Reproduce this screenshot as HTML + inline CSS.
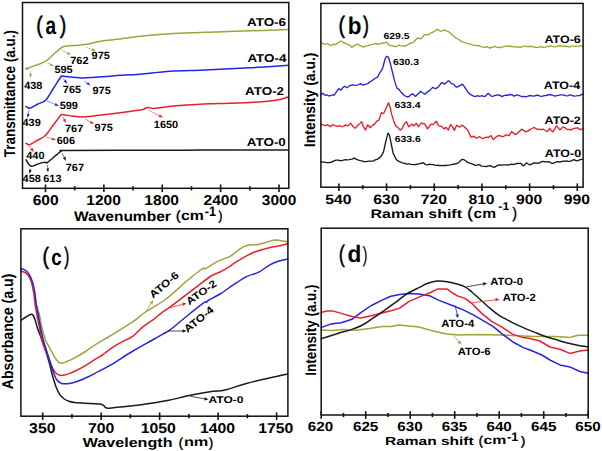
<!DOCTYPE html>
<html><head><meta charset="utf-8"><style>html,body{margin:0;padding:0;background:#fff;}svg{display:block;font-family:"Liberation Sans",sans-serif;text-rendering:geometricPrecision;}</style></head><body>
<svg width="602" height="451" viewBox="0 0 602 451">
<rect width="602" height="451" fill="#fff"/>
<path d="M26.0,68.6 C26.2,68.6 26.6,69.1 27.3,68.9 C28.0,68.7 28.2,68.1 30.0,67.4 C31.8,66.7 35.4,65.5 38.0,64.5 C40.6,63.5 43.1,63.0 45.8,61.2 C48.5,59.5 51.4,56.2 54.0,54.0 C56.6,51.8 59.5,49.0 61.2,47.8 C62.9,46.6 62.5,46.9 64.0,46.6 C65.5,46.3 67.7,46.0 70.0,45.8 C72.3,45.6 75.2,45.5 78.0,45.2 C80.8,44.9 83.9,44.7 86.7,44.2 C89.5,43.8 92.2,43.1 95.0,42.5 C97.8,41.9 100.8,41.2 103.3,40.8 C105.8,40.4 107.2,40.3 110.0,40.0 C112.8,39.7 115.0,39.6 120.0,39.0 C125.0,38.4 131.7,37.2 140.0,36.3 C148.3,35.4 160.0,34.3 170.0,33.7 C180.0,33.1 193.3,32.8 200.0,32.5 C206.7,32.2 201.7,32.5 210.0,32.2 C218.3,31.9 237.0,31.2 250.0,30.8 C263.0,30.4 281.7,29.8 288.0,29.6" fill="none" stroke="#9ca636" stroke-width="1.5" stroke-linejoin="round" stroke-linecap="round"/>
<path d="M26.0,106.5 C26.2,106.6 26.6,106.9 27.3,107.2 C28.0,107.5 28.2,108.7 30.0,108.2 C31.8,107.7 35.4,105.4 38.0,104.0 C40.6,102.6 43.3,102.5 45.8,100.0 C48.3,97.5 50.5,92.8 53.0,89.0 C55.5,85.2 59.1,79.1 60.8,77.0 C62.5,74.9 61.5,76.3 63.0,76.3 C64.5,76.3 66.6,76.7 70.0,77.0 C73.4,77.3 79.1,78.0 83.3,78.0 C87.5,78.0 90.5,77.5 95.0,77.2 C99.5,76.9 105.8,76.6 110.0,76.3 C114.2,76.0 115.0,75.6 120.0,75.3 C125.0,75.0 131.7,74.9 140.0,74.2 C148.3,73.5 160.0,72.0 170.0,71.3 C180.0,70.6 193.3,70.6 200.0,70.3 C206.7,70.0 201.7,70.1 210.0,69.7 C218.3,69.3 237.0,68.5 250.0,67.8 C263.0,67.1 281.7,65.7 288.0,65.3" fill="none" stroke="#2424e0" stroke-width="1.5" stroke-linejoin="round" stroke-linecap="round"/>
<path d="M26.0,143.4 C26.2,143.5 26.8,143.8 27.3,144.0 C27.8,144.2 27.6,145.3 29.2,144.7 C30.8,144.1 34.4,142.0 37.0,140.5 C39.6,139.0 42.3,138.3 45.0,135.8 C47.7,133.3 50.4,128.9 53.0,125.5 C55.6,122.1 59.1,117.1 60.8,115.3 C62.5,113.5 61.1,114.6 63.0,114.7 C64.9,114.8 68.9,115.6 72.0,116.0 C75.1,116.4 77.9,117.0 81.7,117.0 C85.5,117.0 90.3,116.3 95.0,115.8 C99.7,115.3 105.8,114.5 110.0,114.0 C114.2,113.5 114.7,113.4 120.0,112.7 C125.3,112.0 137.4,110.4 141.6,109.7 C145.8,109.0 143.9,108.7 145.0,108.3 C146.1,107.9 146.8,107.5 148.0,107.5 C149.2,107.5 150.8,108.1 152.0,108.2 C153.2,108.3 150.9,108.7 155.0,108.3 C159.1,107.9 169.8,106.4 176.7,105.8 C183.6,105.2 191.1,104.7 196.7,104.4 C202.2,104.1 201.1,104.1 210.0,103.8 C218.9,103.5 240.0,102.9 250.0,102.4 C260.0,101.9 265.0,101.4 270.0,100.9 C275.0,100.4 276.9,100.2 280.0,99.5 C283.1,98.8 287.1,97.2 288.5,96.8" fill="none" stroke="#e8202a" stroke-width="1.5" stroke-linejoin="round" stroke-linecap="round"/>
<path d="M26.0,159.8 C26.4,160.5 27.6,162.9 28.5,164.0 C29.4,165.1 30.4,166.1 31.6,166.3 C32.8,166.5 34.1,165.5 35.5,165.0 C36.9,164.5 38.2,163.9 39.8,163.4 C41.4,162.9 43.8,162.3 45.0,162.2 C46.2,162.1 45.8,163.5 47.3,162.6 C48.8,161.7 51.7,158.9 54.0,157.0 C56.3,155.1 59.5,152.3 61.3,151.2 C63.1,150.1 55.2,150.7 65.0,150.5 C74.8,150.3 97.5,150.4 120.0,150.3 C142.5,150.2 171.9,150.2 200.0,150.1 C228.1,150.0 273.8,150.0 288.5,150.0" fill="none" stroke="#1a1a1a" stroke-width="1.5" stroke-linejoin="round" stroke-linecap="round"/>
<line x1="30.50" y1="71.00" x2="30.50" y2="73.80" stroke="#9ca636" stroke-width="0.55"/>
<polygon points="30.50,78.00 29.05,73.80 31.95,73.80" fill="#9ca636"/>
<line x1="47.20" y1="62.80" x2="50.13" y2="64.24" stroke="#9ca636" stroke-width="0.55"/>
<polygon points="53.90,66.10 49.49,65.55 50.77,62.94" fill="#9ca636"/>
<line x1="61.60" y1="50.00" x2="67.38" y2="53.04" stroke="#9ca636" stroke-width="0.55"/>
<polygon points="71.10,55.00 66.71,54.33 68.06,51.76" fill="#9ca636"/>
<line x1="85.60" y1="47.20" x2="92.16" y2="49.64" stroke="#9ca636" stroke-width="0.55"/>
<polygon points="96.10,51.10 91.66,51.00 92.67,48.28" fill="#9ca636"/>
<line x1="63.30" y1="78.30" x2="64.80" y2="80.45" stroke="#2424e0" stroke-width="0.55"/>
<polygon points="67.20,83.90 63.61,81.28 65.99,79.62" fill="#2424e0"/>
<line x1="84.40" y1="81.10" x2="87.20" y2="83.13" stroke="#2424e0" stroke-width="0.55"/>
<polygon points="90.60,85.60 86.35,84.31 88.05,81.96" fill="#2424e0"/>
<line x1="47.00" y1="101.00" x2="55.12" y2="104.38" stroke="#2424e0" stroke-width="0.55"/>
<polygon points="59.00,106.00 54.57,105.72 55.68,103.05" fill="#2424e0"/>
<line x1="29.00" y1="110.00" x2="28.27" y2="113.87" stroke="#2424e0" stroke-width="0.55"/>
<polygon points="27.50,118.00 26.85,113.60 29.70,114.14" fill="#2424e0"/>
<line x1="63.00" y1="117.00" x2="64.12" y2="119.24" stroke="#e8202a" stroke-width="0.55"/>
<polygon points="66.00,123.00 62.82,119.89 65.42,118.59" fill="#e8202a"/>
<line x1="85.00" y1="119.00" x2="90.33" y2="121.96" stroke="#e8202a" stroke-width="0.55"/>
<polygon points="94.00,124.00 89.62,123.23 91.03,120.69" fill="#e8202a"/>
<line x1="46.00" y1="137.00" x2="51.98" y2="138.79" stroke="#e8202a" stroke-width="0.55"/>
<polygon points="56.00,140.00 51.56,140.18 52.39,137.40" fill="#e8202a"/>
<line x1="29.00" y1="146.00" x2="31.31" y2="148.77" stroke="#e8202a" stroke-width="0.55"/>
<polygon points="34.00,152.00 30.20,149.70 32.43,147.85" fill="#e8202a"/>
<line x1="149.00" y1="110.50" x2="159.24" y2="115.62" stroke="#e8202a" stroke-width="0.55"/>
<polygon points="163.00,117.50 158.59,116.92 159.89,114.32" fill="#e8202a"/>
<line x1="62.00" y1="153.00" x2="64.12" y2="157.24" stroke="#1a1a1a" stroke-width="0.55"/>
<polygon points="66.00,161.00 62.82,157.89 65.42,156.59" fill="#1a1a1a"/>
<line x1="47.50" y1="165.00" x2="47.72" y2="168.31" stroke="#1a1a1a" stroke-width="0.55"/>
<polygon points="48.00,172.50 46.27,168.41 49.17,168.21" fill="#1a1a1a"/>
<line x1="30.50" y1="168.50" x2="30.25" y2="169.87" stroke="#1a1a1a" stroke-width="0.55"/>
<polygon points="29.50,174.00 28.82,169.61 31.68,170.13" fill="#1a1a1a"/>
<ellipse cx="26.9" cy="68.5" rx="1.6" ry="1.3" fill="#9ca636"/>
<polyline points="320.7,42.9 322.6,43.4 324.5,44.4 326.0,44.1 327.5,43.7 329.0,44.5 330.5,45.6 332.0,45.0 333.5,44.1 335.7,44.7 337.9,42.6 339.2,42.0 340.6,41.1 342.2,41.7 343.9,43.2 345.4,43.2 346.9,44.1 348.4,45.0 349.9,45.2 352.1,47.4 353.6,46.1 355.1,45.2 356.6,44.4 358.1,44.1 359.6,45.5 361.1,45.9 363.3,47.1 364.8,46.5 366.3,45.9 367.8,45.9 369.3,45.2 370.8,44.8 372.3,44.4 373.8,44.2 375.3,43.7 376.8,43.7 378.3,44.4 379.8,43.9 381.3,43.2 382.8,43.4 384.3,42.9 386.5,42.2 388.0,43.7 389.5,45.2 391.4,45.8 393.2,45.9 394.7,46.5 396.2,46.7 397.7,45.5 399.2,45.2 401.1,45.8 403.0,45.9 404.4,46.0 405.9,45.9 407.7,44.7 409.5,43.9 411.0,42.7 412.5,42.8 414.0,41.7 415.9,39.8 417.7,37.9 419.2,38.5 420.7,38.7 422.5,37.0 424.4,34.6 425.9,35.0 427.4,34.9 428.9,34.5 430.4,33.2 431.9,32.5 433.4,32.0 435.0,31.0 436.7,29.3 438.6,30.2 440.6,31.2 442.6,30.9 444.6,29.7 446.5,31.1 448.3,31.7 449.8,32.6 451.3,34.0 452.8,35.7 454.3,36.4 455.8,38.2 457.3,38.7 459.0,39.8 460.8,41.1 462.5,42.1 464.3,42.4 466.0,43.1 467.8,43.6 469.3,43.9 470.8,44.2 472.3,44.8 473.8,45.1 475.3,45.3 476.7,45.7 478.2,45.4 479.7,46.0 481.2,46.7 482.7,47.1 484.2,47.2 485.7,47.4 487.2,46.6 488.7,47.5 490.2,48.1 491.7,47.1 493.2,47.2 494.7,46.2 496.5,47.1 498.2,47.5 500.0,47.5 501.7,47.2 503.3,46.9 505.0,46.3 506.7,45.9 508.3,46.4 510.0,46.0 511.7,46.5 513.3,46.6 515.0,47.2 516.7,46.7 518.3,47.4 520.0,47.0 521.7,47.2 523.3,46.1 525.0,46.2 526.7,46.6 528.3,46.3 530.0,46.5 531.7,46.4 533.3,46.8 535.0,47.3 536.7,47.4 538.3,47.3 540.0,46.8 541.7,46.6 543.3,47.4 545.0,47.5 546.7,46.5 548.3,46.7 550.0,46.0 551.7,46.0 553.3,46.8 555.0,46.6 556.7,46.7 558.3,45.9 560.0,45.5 561.7,46.3 563.3,45.9 565.0,46.4 566.7,46.1 568.3,46.8 570.0,46.8 571.5,46.2 573.0,46.1 574.5,46.2 576.0,46.1 577.8,46.3 579.5,45.9 581.2,45.8 583.0,46.3" fill="none" stroke="#9ca636" stroke-width="1.35" stroke-linejoin="round" stroke-linecap="round"/>
<polyline points="320.7,94.5 322.7,93.3 324.5,95.1 326.7,94.8 329.0,96.0 331.2,95.3 332.7,94.9 334.2,95.1 336.4,91.9 338.7,88.6 340.9,90.1 342.8,87.8 344.7,86.2 346.9,87.7 348.4,86.7 349.9,85.6 351.4,85.1 352.9,84.8 354.4,85.2 355.9,85.4 357.4,85.2 358.9,84.5 360.4,83.6 361.9,84.6 363.3,85.1 364.8,84.3 366.3,84.1 367.8,83.6 369.3,82.4 370.8,81.3 372.3,80.6 374.0,79.1 375.8,78.0 377.5,77.2 379.8,72.7 381.3,70.7 382.8,67.9 385.0,59.0 386.5,56.3 388.5,57.2 390.3,63.5 392.5,72.4 394.7,81.4 397.0,88.1 399.2,89.6 400.7,91.8 402.2,93.3 403.7,95.0 405.2,96.0 406.9,96.7 408.7,96.7 410.6,94.9 412.5,93.7 414.0,94.9 415.5,96.4 417.2,94.8 419.0,93.2 420.7,91.2 422.2,92.5 423.7,93.5 425.2,94.1 427.0,92.2 428.9,91.2 430.8,89.4 432.7,87.4 434.1,88.2 435.6,88.6 437.9,87.4 439.8,85.0 441.6,82.6 443.1,83.0 444.6,84.1 446.5,82.4 448.3,80.7 449.8,81.8 451.3,83.7 453.6,84.1 455.1,86.0 456.6,87.1 458.1,86.7 459.6,85.6 461.1,84.9 462.5,84.1 464.8,87.4 466.3,89.5 467.8,91.9 469.3,93.7 470.8,94.6 472.6,95.6 474.5,96.4 476.0,96.4 477.5,95.6 479.7,96.4 482.0,95.6 483.5,96.3 485.0,96.4 486.5,94.9 488.0,93.4 489.9,94.8 491.7,96.4 493.2,96.1 494.7,95.6 496.4,95.1 498.0,94.8 500.0,95.4 502.0,96.6 504.0,95.7 506.0,95.2 508.0,95.2 510.0,94.5 512.0,94.9 514.0,96.2 516.0,95.1 518.0,95.0 520.0,95.9 522.0,96.6 524.0,96.5 526.0,96.8 528.0,96.2 530.0,95.5 532.0,95.8 534.0,96.2 536.0,95.5 538.0,95.1 540.0,96.2 542.0,96.3 544.0,95.6 546.0,95.5 548.0,95.0 550.0,94.6 552.0,95.0 554.0,96.0 556.0,95.8 558.0,95.3 560.0,94.8 562.0,94.8 564.0,95.2 566.0,95.8 568.0,95.6 570.0,94.9 572.0,95.3 574.0,96.1 576.0,95.9 578.0,95.6 579.7,95.6 581.3,94.5 583.0,94.5" fill="none" stroke="#2424e0" stroke-width="1.35" stroke-linejoin="round" stroke-linecap="round"/>
<polyline points="320.7,124.1 323.0,124.9 325.2,125.6 327.5,124.6 329.0,125.8 330.5,126.7 332.7,124.6 334.9,125.6 337.2,126.4 339.4,125.6 340.9,126.4 342.4,126.7 343.9,126.1 345.4,124.9 346.9,125.7 348.4,125.6 350.6,123.1 352.9,126.4 355.1,128.2 356.6,126.8 358.1,124.9 359.9,123.7 361.6,121.6 363.3,126.4 365.6,130.1 367.5,124.9 368.8,125.9 370.1,127.9 372.3,125.6 374.6,124.1 376.8,121.2 379.0,120.1 381.3,112.6 383.5,113.7 385.8,108.8 387.1,105.8 388.5,102.8 390.3,107.7 391.7,114.4 394.0,121.9 396.2,126.4 397.7,127.1 400.0,130.1 402.2,128.6 404.5,123.4 406.7,121.9 408.7,126.7 410.2,125.8 411.7,124.1 414.0,125.9 416.2,123.2 418.5,126.7 419.9,124.9 421.4,122.9 422.9,123.7 424.4,123.7 425.9,125.9 427.4,128.9 429.3,126.5 431.2,124.1 433.4,124.4 434.9,122.6 436.4,121.4 438.6,125.9 440.1,126.1 441.6,126.2 443.9,128.9 446.1,127.4 448.3,130.1 450.6,124.4 452.8,127.1 454.3,130.4 456.6,125.2 458.1,126.2 459.6,127.1 461.8,125.2 463.3,125.8 464.8,127.4 466.3,128.6 467.8,130.4 469.3,133.5 470.8,137.1 472.3,137.0 473.8,136.1 475.2,137.4 476.7,138.2 479.0,136.7 480.5,137.3 482.0,138.6 483.5,138.4 485.0,137.6 486.5,137.2 488.0,137.6 489.5,136.7 491.0,135.6 493.3,139.6 495.0,137.7 496.6,136.6 498.3,135.7 500.0,135.7 501.6,136.5 503.3,136.6 505.0,135.5 506.6,134.9 509.1,135.7 511.6,131.6 513.2,132.8 514.9,134.6 516.5,134.0 518.2,132.4 519.9,131.1 521.6,129.1 523.7,130.3 525.7,131.9 527.8,131.2 529.9,129.6 532.0,128.5 534.0,127.4 536.1,128.7 538.2,129.6 539.9,129.1 541.5,129.7 543.2,129.1 545.2,130.5 547.3,131.6 549.8,128.3 551.3,130.6 552.8,131.9 554.6,129.2 556.4,125.8 558.1,127.6 559.8,129.9 561.5,128.3 563.1,126.9 565.2,127.9 567.2,129.6 569.3,129.4 571.4,129.9 573.0,128.7 574.7,128.3 576.4,128.0 578.0,128.0 580.5,129.9 583.0,128.3" fill="none" stroke="#e8202a" stroke-width="1.35" stroke-linejoin="round" stroke-linecap="round"/>
<polyline points="320.7,161.6 322.6,162.1 324.5,162.1 326.4,162.6 328.2,162.7 329.7,162.5 331.2,162.4 332.7,161.5 334.2,160.9 336.0,160.2 337.9,160.1 339.8,160.5 341.7,160.6 343.5,160.1 345.4,159.7 347.2,159.9 349.1,159.7 350.6,159.3 352.1,159.1 354.1,158.2 356.6,159.4 358.5,160.2 360.4,160.6 361.9,160.8 363.3,161.5 364.8,161.6 366.3,161.6 367.8,161.3 369.3,161.2 370.8,161.1 372.3,161.1 373.8,160.9 375.3,159.9 376.8,159.4 378.3,158.6 379.8,157.6 381.3,156.1 383.5,151.9 385.8,141.4 388.0,133.2 389.5,135.2 391.0,142.9 393.2,153.4 394.7,156.2 396.2,159.4 397.7,160.7 399.2,161.6 400.7,162.2 402.2,162.8 403.7,163.1 405.2,163.5 406.7,164.2 408.1,163.8 409.5,163.9 411.0,164.4 412.5,164.6 414.0,164.7 415.5,164.5 417.0,164.1 418.5,164.2 420.0,163.5 421.4,163.3 422.9,162.7 424.4,163.6 425.9,164.7 427.8,164.8 429.7,164.2 431.4,164.6 433.2,164.6 434.9,165.1 436.4,165.3 437.9,165.2 439.4,165.6 440.9,165.4 442.4,165.7 443.9,165.4 445.4,165.5 446.9,165.4 448.9,165.1 450.8,164.8 452.8,164.2 454.3,164.3 455.8,163.5 457.3,163.6 459.6,161.7 461.8,159.4 464.0,159.7 465.9,161.0 467.8,162.4 469.6,163.1 471.5,163.6 473.4,164.4 475.3,165.4 476.8,165.1 478.2,164.7 479.7,164.9 481.2,166.0 482.7,166.2 484.6,166.4 486.5,166.6 488.2,165.9 490.0,165.7 492.1,166.7 494.2,167.4 496.2,166.2 498.3,165.2 500.0,164.9 501.6,165.1 503.3,164.8 504.9,164.8 506.6,164.9 508.3,165.0 509.9,164.7 511.6,164.1 513.2,164.5 514.9,164.1 516.8,163.5 518.8,163.4 520.7,163.3 523.2,165.7 524.9,164.6 526.5,162.9 528.2,164.0 529.9,164.9 532.0,163.8 534.0,162.9 536.1,163.0 538.2,163.3 539.9,162.6 541.5,161.7 543.2,161.3 545.2,161.8 547.3,161.6 549.0,161.9 550.6,162.7 552.3,163.3 554.3,162.8 556.4,161.9 558.1,161.7 559.7,162.0 561.4,161.6 563.1,161.2 564.7,161.4 566.4,160.8 568.0,161.3 569.7,161.3 571.8,160.6 573.9,159.6 575.5,160.5 577.2,160.8 578.9,160.2 580.5,159.6 583.0,159.1" fill="none" stroke="#1a1a1a" stroke-width="1.35" stroke-linejoin="round" stroke-linecap="round"/>
<path d="M21.1,271.3 C21.9,271.6 24.4,271.9 25.8,272.9 C27.2,273.9 28.5,275.4 29.6,277.5 C30.7,279.6 31.7,282.4 32.6,285.3 C33.5,288.2 34.1,291.7 34.8,295.0 C35.5,298.3 35.8,301.7 36.6,305.0 C37.4,308.3 38.5,311.2 39.4,315.0 C40.3,318.8 40.9,323.3 41.9,327.5 C42.9,331.7 44.3,336.8 45.5,340.0 C46.7,343.2 48.2,345.0 49.2,347.0 C50.2,349.0 51.0,350.5 51.8,352.0 C52.6,353.5 53.3,354.6 54.0,355.8 C54.7,357.0 55.3,358.3 56.0,359.3 C56.7,360.3 57.4,361.2 58.2,361.8 C59.0,362.4 59.8,363.0 60.8,363.1 C61.8,363.2 62.8,363.0 64.2,362.6 C65.6,362.2 67.3,361.3 69.0,360.6 C70.7,359.9 71.5,359.6 74.1,358.2 C76.7,356.8 81.2,354.2 84.7,352.0 C88.2,349.8 90.8,347.6 95.0,344.9 C99.2,342.2 103.8,339.8 110.0,336.0 C116.2,332.2 126.3,326.2 132.2,322.2 C138.1,318.2 140.0,315.8 145.5,312.0 C151.0,308.2 158.4,304.8 165.4,299.5 C172.4,294.2 182.1,285.0 187.6,280.3 C193.1,275.6 195.9,273.5 198.6,271.5 C201.2,269.5 202.3,268.7 203.5,268.2 C204.7,267.7 203.2,269.8 205.7,268.6 C208.1,267.4 214.1,263.2 218.2,261.2 C222.2,259.1 226.7,258.1 230.0,256.3 C233.3,254.5 235.8,252.1 238.0,250.5 C240.2,248.9 241.5,247.7 243.3,246.8 C245.2,245.9 246.6,245.4 249.1,245.0 C251.6,244.6 255.1,245.0 258.3,244.4 C261.5,243.8 265.8,242.3 268.3,241.6 C270.8,240.9 271.7,240.6 273.2,240.3 C274.7,240.0 275.9,239.8 277.4,239.9 C278.9,240.0 280.6,240.7 282.4,241.0 C284.1,241.3 287.0,241.5 287.9,241.6" fill="none" stroke="#9ca636" stroke-width="1.5" stroke-linejoin="round" stroke-linecap="round"/>
<path d="M21.1,320.2 C21.9,319.7 24.4,318.0 26.0,317.0 C27.6,316.0 29.8,314.6 31.0,314.3 C32.2,314.0 32.5,314.3 33.2,315.3 C33.9,316.3 34.6,318.5 35.3,320.5 C36.0,322.5 36.5,325.3 37.2,327.5 C37.9,329.7 38.7,331.4 39.5,333.5 C40.3,335.6 41.0,337.5 41.9,340.0 C42.8,342.5 43.8,344.7 45.0,348.5 C46.2,352.3 47.9,357.9 49.2,362.6 C50.5,367.3 51.6,372.7 52.8,376.8 C54.0,380.9 55.1,384.5 56.3,387.5 C57.5,390.5 58.6,392.7 59.9,394.6 C61.2,396.5 62.8,397.9 64.3,399.0 C65.8,400.1 67.2,400.7 69.0,401.3 C70.8,401.9 71.2,402.2 74.9,402.6 C78.6,403.0 86.4,403.3 90.9,403.6 C95.4,403.9 99.5,403.9 101.8,404.4 C104.0,404.9 103.6,405.8 104.4,406.4 C105.2,407.0 105.1,407.9 106.8,408.1 C108.5,408.3 110.2,408.0 114.8,407.6 C119.4,407.2 128.1,406.4 134.7,405.6 C141.3,404.8 148.7,403.6 154.6,402.7 C160.5,401.8 163.8,401.3 170.0,400.0 C176.2,398.7 184.4,396.4 191.6,395.0 C198.8,393.6 207.8,392.1 213.2,391.3 C218.6,390.5 218.6,391.4 224.0,390.2 C229.4,388.9 238.4,385.8 245.6,383.8 C252.8,381.8 260.2,380.0 267.2,378.4 C274.2,376.8 284.3,374.7 287.7,374.0" fill="none" stroke="#1a1a1a" stroke-width="1.5" stroke-linejoin="round" stroke-linecap="round"/>
<path d="M21.1,271.3 C21.9,271.6 24.4,271.9 25.8,272.9 C27.2,273.9 28.5,275.4 29.6,277.5 C30.7,279.6 31.6,282.4 32.3,285.3 C33.0,288.2 33.5,291.7 34.0,295.0 C34.5,298.3 34.7,301.7 35.2,305.0 C35.7,308.3 36.2,311.2 36.9,315.0 C37.6,318.8 38.6,323.3 39.4,327.5 C40.2,331.7 41.0,336.5 41.9,340.0 C42.8,343.5 43.5,345.6 44.6,348.5 C45.7,351.4 47.2,354.6 48.3,357.3 C49.4,360.0 50.1,362.4 51.0,364.5 C51.9,366.6 52.6,368.3 53.5,369.8 C54.4,371.3 55.4,372.6 56.5,373.5 C57.6,374.4 58.6,375.0 59.9,375.3 C61.2,375.6 62.8,375.4 64.3,375.1 C65.8,374.8 67.4,374.2 69.0,373.6 C70.6,373.0 71.5,372.7 74.1,371.5 C76.7,370.3 81.2,368.2 84.7,366.2 C88.2,364.2 92.0,361.3 95.0,359.4 C98.0,357.5 100.4,356.3 102.4,355.0 C104.4,353.7 104.7,353.1 106.8,351.6 C108.9,350.1 111.9,347.7 115.0,345.8 C118.1,343.9 122.6,341.8 125.5,340.2 C128.4,338.6 129.7,338.7 132.6,336.4 C135.5,334.1 139.6,329.5 143.2,326.6 C146.8,323.7 151.4,321.0 154.3,318.8 C157.2,316.6 158.2,315.3 160.9,313.3 C163.6,311.3 164.8,310.8 170.2,306.8 C175.6,302.8 186.5,294.4 193.3,289.3 C200.1,284.2 206.6,278.9 211.0,276.0 C215.4,273.1 217.0,273.5 220.0,272.0 C223.0,270.5 226.0,268.8 228.8,267.1 C231.6,265.4 232.5,264.0 236.6,261.6 C240.7,259.2 247.8,254.8 253.3,252.5 C258.9,250.2 265.5,248.6 269.9,247.5 C274.3,246.4 276.9,246.5 279.9,245.8 C282.9,245.2 286.6,244.0 287.9,243.6" fill="none" stroke="#e8202a" stroke-width="1.5" stroke-linejoin="round" stroke-linecap="round"/>
<path d="M21.1,268.5 C21.9,268.8 24.4,269.4 25.8,270.5 C27.2,271.6 28.4,273.1 29.6,275.2 C30.8,277.3 31.9,280.0 32.8,283.0 C33.7,286.0 34.3,289.4 34.9,293.1 C35.5,296.8 35.7,301.4 36.3,305.0 C36.9,308.6 37.6,311.2 38.3,315.0 C39.0,318.8 39.7,323.3 40.5,327.5 C41.3,331.7 42.3,336.2 43.3,340.0 C44.3,343.8 45.3,346.8 46.3,350.0 C47.3,353.2 48.3,356.4 49.2,359.1 C50.1,361.9 50.8,364.2 51.5,366.5 C52.2,368.8 53.0,371.2 53.7,373.0 C54.4,374.8 54.9,376.2 55.5,377.5 C56.1,378.8 56.5,379.6 57.5,380.6 C58.5,381.6 60.0,383.0 61.6,383.5 C63.2,384.0 65.3,383.9 67.0,383.8 C68.7,383.7 70.2,383.4 72.0,383.0 C73.8,382.6 74.9,382.3 77.6,381.3 C80.3,380.3 85.4,378.1 88.3,376.8 C91.2,375.5 91.4,375.2 95.0,373.3 C98.6,371.4 103.8,369.0 110.0,365.4 C116.2,361.8 124.8,355.9 132.2,351.5 C139.6,347.1 148.2,342.5 154.3,339.0 C160.4,335.5 165.3,332.9 168.8,330.6 C172.3,328.4 172.4,328.0 175.5,325.5 C178.6,323.0 182.8,319.3 187.6,315.5 C192.3,311.7 200.8,304.8 204.0,302.6 C207.2,300.4 206.0,302.7 206.6,302.4 C207.2,302.1 205.4,302.2 207.6,300.8 C209.8,299.4 215.7,296.6 220.0,294.0 C224.3,291.4 228.9,287.8 233.3,284.9 C237.7,282.0 242.4,278.7 246.6,276.6 C250.8,274.5 254.4,274.3 258.3,272.4 C262.2,270.4 266.6,266.8 269.9,264.9 C273.2,263.0 275.2,262.3 278.2,261.3 C281.2,260.3 286.3,259.5 287.9,259.1" fill="none" stroke="#2424e0" stroke-width="1.5" stroke-linejoin="round" stroke-linecap="round"/>
<line x1="145.50" y1="312.20" x2="151.04" y2="303.57" stroke="#9ca636" stroke-width="0.8"/>
<polygon points="153.20,300.20 152.55,304.54 149.52,302.59" fill="#9ca636"/>
<line x1="169.90" y1="307.70" x2="182.63" y2="304.32" stroke="#e8202a" stroke-width="0.8"/>
<polygon points="186.50,303.30 183.09,306.06 182.17,302.58" fill="#e8202a"/>
<line x1="168.00" y1="331.00" x2="182.50" y2="331.00" stroke="#1a1a1a" stroke-width="0.8"/>
<polygon points="186.50,331.00 182.50,332.80 182.50,329.20" fill="#1a1a1a"/>
<line x1="190.50" y1="396.30" x2="204.46" y2="398.80" stroke="#1a1a1a" stroke-width="0.8"/>
<polygon points="208.40,399.50 204.15,400.57 204.78,397.02" fill="#1a1a1a"/>
<polyline points="321.0,329.9 332.4,330.6 343.0,329.4 355.5,330.3 369.6,328.5 382.1,326.4 390.9,326.4 398.9,325.0 408.7,325.9 418.9,327.1 427.7,329.4 433.3,331.0 446.6,334.0 459.9,334.9 479.8,334.4 499.7,334.9 512.2,335.4 534.3,336.5 556.5,336.5 569.8,337.4 578.0,335.2 588.0,335.2" fill="none" stroke="#9ca636" stroke-width="1.5" stroke-linejoin="round" stroke-linecap="round"/>
<polyline points="321.0,327.6 330.6,324.1 341.3,322.8 351.9,319.3 360.8,312.6 371.4,305.5 382.1,300.1 390.9,296.2 399.8,294.5 408.7,293.6 418.9,293.9 429.5,295.7 438.4,300.1 454.3,306.3 463.2,309.9 473.8,315.2 484.5,321.4 493.3,326.7 501.1,333.2 513.0,342.0 523.3,347.6 529.9,350.0 541.9,355.0 549.9,360.0 559.9,364.9 569.8,366.9 579.8,371.5 588.0,373.3" fill="none" stroke="#2424e0" stroke-width="1.5" stroke-linejoin="round" stroke-linecap="round"/>
<polyline points="321.0,312.6 327.1,311.1 333.3,311.1 341.3,313.4 351.9,316.5 360.8,317.9 371.4,315.7 382.1,312.9 390.9,310.8 399.8,308.1 408.7,301.6 420.0,296.6 429.5,293.0 437.5,289.1 447.2,289.1 452.6,293.0 457.0,295.7 465.0,298.4 472.1,303.7 480.9,312.6 491.6,321.4 501.5,326.8 512.5,334.1 523.3,337.6 529.9,338.5 539.9,341.0 549.9,347.0 559.9,349.2 569.8,353.4 579.8,351.0 588.0,350.0" fill="none" stroke="#e8202a" stroke-width="1.5" stroke-linejoin="round" stroke-linecap="round"/>
<path d="M321.0,338.8 C323.8,337.9 332.6,335.1 337.7,333.5 C342.8,331.9 347.8,330.8 351.9,329.4 C356.0,328.0 359.1,326.9 362.6,325.0 C366.2,323.1 369.7,320.3 373.2,317.9 C376.7,315.5 380.0,313.5 383.8,310.8 C387.6,308.1 392.4,304.7 396.2,301.9 C400.0,299.1 403.1,296.2 406.9,293.8 C410.7,291.4 415.4,289.4 418.9,287.7 C422.4,285.9 424.6,284.4 427.7,283.3 C430.8,282.2 434.5,281.3 437.5,281.0 C440.5,280.7 442.4,281.0 445.5,281.5 C448.6,282.0 452.9,282.9 456.1,283.8 C459.4,284.7 462.3,285.4 465.0,286.8 C467.7,288.2 469.5,290.0 472.1,292.2 C474.8,294.4 477.9,297.5 480.9,300.1 C483.8,302.8 486.8,305.6 489.8,308.1 C492.8,310.6 495.2,312.9 498.7,315.2 C502.2,317.5 506.9,319.7 511.0,321.8 C515.1,323.9 519.4,325.9 523.3,327.6 C527.2,329.3 530.6,330.6 534.3,332.1 C538.0,333.6 541.7,335.2 545.4,336.5 C549.1,337.8 552.8,338.7 556.5,339.8 C560.2,340.9 563.9,342.2 567.6,343.1 C571.3,344.0 575.3,344.8 578.7,345.4 C582.1,346.0 586.5,346.6 588.0,346.9" fill="none" stroke="#1a1a1a" stroke-width="1.5" stroke-linejoin="round" stroke-linecap="round"/>
<line x1="466.40" y1="286.80" x2="483.16" y2="283.97" stroke="#1a1a1a" stroke-width="0.8"/>
<polygon points="487.10,283.30 483.46,285.74 482.86,282.19" fill="#1a1a1a"/>
<line x1="472.10" y1="302.80" x2="495.53" y2="299.81" stroke="#e8202a" stroke-width="0.8"/>
<polygon points="499.50,299.30 495.76,301.59 495.30,298.02" fill="#e8202a"/>
<line x1="455.20" y1="305.50" x2="457.07" y2="314.29" stroke="#2424e0" stroke-width="0.8"/>
<polygon points="457.90,318.20 455.31,314.66 458.83,313.91" fill="#2424e0"/>
<line x1="452.60" y1="334.70" x2="458.73" y2="341.52" stroke="#9ca636" stroke-width="0.8"/>
<polygon points="461.40,344.50 457.39,342.73 460.07,340.32" fill="#9ca636"/>
<rect x="22.5" y="2.5" width="266.30" height="185.80" fill="none" stroke="#111" stroke-width="1.5"/>
<line x1="45.50" y1="184.50" x2="45.50" y2="192.10" stroke="#111" stroke-width="1.6"/>
<line x1="103.88" y1="184.50" x2="103.88" y2="192.10" stroke="#111" stroke-width="1.6"/>
<line x1="162.25" y1="184.50" x2="162.25" y2="192.10" stroke="#111" stroke-width="1.6"/>
<line x1="220.62" y1="184.50" x2="220.62" y2="192.10" stroke="#111" stroke-width="1.6"/>
<line x1="279.00" y1="184.50" x2="279.00" y2="192.10" stroke="#111" stroke-width="1.6"/>
<line x1="74.70" y1="186.20" x2="74.70" y2="190.40" stroke="#111" stroke-width="1.6"/>
<line x1="133.07" y1="186.20" x2="133.07" y2="190.40" stroke="#111" stroke-width="1.6"/>
<line x1="191.45" y1="186.20" x2="191.45" y2="190.40" stroke="#111" stroke-width="1.6"/>
<line x1="249.82" y1="186.20" x2="249.82" y2="190.40" stroke="#111" stroke-width="1.6"/>
<rect x="320.9" y="3.4" width="262.20" height="183.80" fill="none" stroke="#111" stroke-width="1.5"/>
<line x1="338.90" y1="183.40" x2="338.90" y2="191.00" stroke="#111" stroke-width="1.6"/>
<line x1="386.58" y1="183.40" x2="386.58" y2="191.00" stroke="#111" stroke-width="1.6"/>
<line x1="434.26" y1="183.40" x2="434.26" y2="191.00" stroke="#111" stroke-width="1.6"/>
<line x1="481.94" y1="183.40" x2="481.94" y2="191.00" stroke="#111" stroke-width="1.6"/>
<line x1="529.62" y1="183.40" x2="529.62" y2="191.00" stroke="#111" stroke-width="1.6"/>
<line x1="577.30" y1="183.40" x2="577.30" y2="191.00" stroke="#111" stroke-width="1.6"/>
<line x1="362.74" y1="185.10" x2="362.74" y2="189.30" stroke="#111" stroke-width="1.6"/>
<line x1="410.42" y1="185.10" x2="410.42" y2="189.30" stroke="#111" stroke-width="1.6"/>
<line x1="458.10" y1="185.10" x2="458.10" y2="189.30" stroke="#111" stroke-width="1.6"/>
<line x1="505.78" y1="185.10" x2="505.78" y2="189.30" stroke="#111" stroke-width="1.6"/>
<line x1="553.46" y1="185.10" x2="553.46" y2="189.30" stroke="#111" stroke-width="1.6"/>
<rect x="20.9" y="228.8" width="267.00" height="187.40" fill="none" stroke="#111" stroke-width="1.5"/>
<line x1="42.70" y1="412.40" x2="42.70" y2="420.00" stroke="#111" stroke-width="1.6"/>
<line x1="101.18" y1="412.40" x2="101.18" y2="420.00" stroke="#111" stroke-width="1.6"/>
<line x1="159.65" y1="412.40" x2="159.65" y2="420.00" stroke="#111" stroke-width="1.6"/>
<line x1="218.12" y1="412.40" x2="218.12" y2="420.00" stroke="#111" stroke-width="1.6"/>
<line x1="276.60" y1="412.40" x2="276.60" y2="420.00" stroke="#111" stroke-width="1.6"/>
<line x1="71.94" y1="414.10" x2="71.94" y2="418.30" stroke="#111" stroke-width="1.6"/>
<line x1="130.41" y1="414.10" x2="130.41" y2="418.30" stroke="#111" stroke-width="1.6"/>
<line x1="188.89" y1="414.10" x2="188.89" y2="418.30" stroke="#111" stroke-width="1.6"/>
<line x1="247.37" y1="414.10" x2="247.37" y2="418.30" stroke="#111" stroke-width="1.6"/>
<rect x="321.2" y="228.2" width="267.00" height="186.80" fill="none" stroke="#111" stroke-width="1.5"/>
<line x1="321.20" y1="411.20" x2="321.20" y2="418.80" stroke="#111" stroke-width="1.6"/>
<line x1="365.70" y1="411.20" x2="365.70" y2="418.80" stroke="#111" stroke-width="1.6"/>
<line x1="410.20" y1="411.20" x2="410.20" y2="418.80" stroke="#111" stroke-width="1.6"/>
<line x1="454.70" y1="411.20" x2="454.70" y2="418.80" stroke="#111" stroke-width="1.6"/>
<line x1="499.20" y1="411.20" x2="499.20" y2="418.80" stroke="#111" stroke-width="1.6"/>
<line x1="543.70" y1="411.20" x2="543.70" y2="418.80" stroke="#111" stroke-width="1.6"/>
<line x1="588.20" y1="411.20" x2="588.20" y2="418.80" stroke="#111" stroke-width="1.6"/>
<line x1="343.45" y1="412.90" x2="343.45" y2="417.10" stroke="#111" stroke-width="1.6"/>
<line x1="387.95" y1="412.90" x2="387.95" y2="417.10" stroke="#111" stroke-width="1.6"/>
<line x1="432.45" y1="412.90" x2="432.45" y2="417.10" stroke="#111" stroke-width="1.6"/>
<line x1="476.95" y1="412.90" x2="476.95" y2="417.10" stroke="#111" stroke-width="1.6"/>
<line x1="521.45" y1="412.90" x2="521.45" y2="417.10" stroke="#111" stroke-width="1.6"/>
<line x1="565.95" y1="412.90" x2="565.95" y2="417.10" stroke="#111" stroke-width="1.6"/>
<g font-family="Liberation Sans, sans-serif">
<text transform="matrix(0.8253,0,0,1,36.34,32.60)" font-size="23.79" font-weight="normal" fill="#000" stroke="#000" stroke-width="0.5" vector-effect="non-scaling-stroke" stroke-linejoin="round">(</text>
<text transform="matrix(0.7537,0,0,1,45.43,33.65)" font-size="25.20" font-weight="bold" fill="#000">a</text>
<text transform="matrix(0.8200,0,0,1,59.73,32.55)" font-size="24.01" font-weight="normal" fill="#000" stroke="#000" stroke-width="0.5" vector-effect="non-scaling-stroke" stroke-linejoin="round">)</text>
<text transform="matrix(1.1851,0,0,1,246.98,26.40)" font-size="11.33" font-weight="bold" fill="#000">ATO-6</text>
<text transform="matrix(1.1851,0,0,1,247.42,62.20)" font-size="11.33" font-weight="bold" fill="#000">ATO-4</text>
<text transform="matrix(1.1851,0,0,1,245.05,95.15)" font-size="11.33" font-weight="bold" fill="#000">ATO-2</text>
<text transform="matrix(1.1851,0,0,1,246.80,145.50)" font-size="11.33" font-weight="bold" fill="#000">ATO-0</text>
<text transform="matrix(1.0466,0,0,1,24.18,88.58)" font-size="10.42" font-weight="bold" fill="#000">438</text>
<text transform="matrix(1.0466,0,0,1,54.46,73.39)" font-size="10.45" font-weight="bold" fill="#000">595</text>
<text transform="matrix(1.0466,0,0,1,70.27,64.34)" font-size="10.44" font-weight="bold" fill="#000">762</text>
<text transform="matrix(1.0466,0,0,1,91.60,59.34)" font-size="10.44" font-weight="bold" fill="#000">975</text>
<text transform="matrix(1.0466,0,0,1,62.86,92.89)" font-size="10.44" font-weight="bold" fill="#000">765</text>
<text transform="matrix(1.0466,0,0,1,92.50,94.49)" font-size="10.44" font-weight="bold" fill="#000">975</text>
<text transform="matrix(1.0466,0,0,1,59.66,109.49)" font-size="10.44" font-weight="bold" fill="#000">599</text>
<text transform="matrix(1.0466,0,0,1,22.52,125.88)" font-size="10.42" font-weight="bold" fill="#000">439</text>
<text transform="matrix(1.0466,0,0,1,65.04,131.84)" font-size="10.44" font-weight="bold" fill="#000">767</text>
<text transform="matrix(1.0466,0,0,1,94.60,130.64)" font-size="10.44" font-weight="bold" fill="#000">975</text>
<text transform="matrix(1.0466,0,0,1,56.73,143.84)" font-size="10.44" font-weight="bold" fill="#000">606</text>
<text transform="matrix(1.0466,0,0,1,26.26,159.10)" font-size="10.45" font-weight="bold" fill="#000">440</text>
<text transform="matrix(1.0466,0,0,1,65.74,170.59)" font-size="10.44" font-weight="bold" fill="#000">767</text>
<text transform="matrix(1.0466,0,0,1,22.61,181.69)" font-size="10.44" font-weight="bold" fill="#000">458</text>
<text transform="matrix(1.0466,0,0,1,43.30,181.68)" font-size="10.42" font-weight="bold" fill="#000">613</text>
<text transform="matrix(1.0466,0,0,1,153.84,127.79)" font-size="10.44" font-weight="bold" fill="#000">1650</text>
<text transform="matrix(1.0912,0,0,1,32.69,205.06)" font-size="14.26" font-weight="bold" fill="#000">600</text>
<text transform="matrix(1.0912,0,0,1,86.24,205.06)" font-size="14.26" font-weight="bold" fill="#000">1200</text>
<text transform="matrix(1.0912,0,0,1,144.34,205.06)" font-size="14.26" font-weight="bold" fill="#000">1800</text>
<text transform="matrix(1.0912,0,0,1,203.55,205.06)" font-size="14.26" font-weight="bold" fill="#000">2400</text>
<text transform="matrix(1.0912,0,0,1,261.81,205.04)" font-size="14.23" font-weight="bold" fill="#000">3000</text>
<text transform="matrix(1.1121,0,0,1,73.95,220.60)" font-size="13.96" font-weight="bold" fill="#000">Wavenumber</text>
<text transform="matrix(1.0307,0,0,1,176.02,220.33)" font-size="13.08" font-weight="normal" fill="#000" stroke="#000" stroke-width="0.5" vector-effect="non-scaling-stroke" stroke-linejoin="round">(</text>
<text transform="matrix(1.1539,0,0,1,180.97,220.27)" font-size="13.69" font-weight="bold" fill="#000">cm</text>
<text transform="matrix(0.9082,0,0,1,204.80,216.30)" font-size="13.95" font-weight="bold" fill="#000">-1</text>
<text transform="matrix(0.9004,0,0,1,218.42,220.37)" font-size="12.86" font-weight="normal" fill="#000" stroke="#000" stroke-width="0.5" vector-effect="non-scaling-stroke" stroke-linejoin="round">)</text>
<text transform="matrix(0,-0.8684,1,0,14.56,157.35)" font-size="15.54" font-weight="bold" fill="#000">Transmittance (a.u.)</text>
<text transform="matrix(0.8216,0,0,1,338.49,33.32)" font-size="23.90" font-weight="normal" fill="#000" stroke="#000" stroke-width="0.6" vector-effect="non-scaling-stroke" stroke-linejoin="round">(</text>
<text transform="matrix(0.9328,0,0,1,347.69,33.87)" font-size="24.10" font-weight="bold" fill="#000">b</text>
<text transform="matrix(0.7429,0,0,1,362.90,33.32)" font-size="23.90" font-weight="normal" fill="#000" stroke="#000" stroke-width="0.6" vector-effect="non-scaling-stroke" stroke-linejoin="round">)</text>
<text transform="matrix(1.1471,0,0,1,544.52,42.94)" font-size="10.88" font-weight="bold" fill="#000">ATO-6</text>
<text transform="matrix(1.1471,0,0,1,543.82,88.54)" font-size="10.88" font-weight="bold" fill="#000">ATO-4</text>
<text transform="matrix(1.1471,0,0,1,544.58,123.54)" font-size="10.87" font-weight="bold" fill="#000">ATO-2</text>
<text transform="matrix(1.1471,0,0,1,544.84,157.14)" font-size="10.88" font-weight="bold" fill="#000">ATO-0</text>
<text transform="matrix(1.1753,0,0,1,383.56,38.60)" font-size="8.86" font-weight="bold" fill="#000">629.5</text>
<text transform="matrix(1.1753,0,0,1,392.98,65.14)" font-size="8.84" font-weight="bold" fill="#000">630.3</text>
<text transform="matrix(1.1753,0,0,1,394.57,107.99)" font-size="8.84" font-weight="bold" fill="#000">633.4</text>
<text transform="matrix(1.1753,0,0,1,394.73,142.29)" font-size="8.84" font-weight="bold" fill="#000">633.6</text>
<text transform="matrix(1.1597,0,0,1,325.25,203.96)" font-size="13.56" font-weight="bold" fill="#000">540</text>
<text transform="matrix(1.1597,0,0,1,373.33,203.95)" font-size="13.53" font-weight="bold" fill="#000">630</text>
<text transform="matrix(1.1597,0,0,1,420.81,203.97)" font-size="13.57" font-weight="bold" fill="#000">720</text>
<text transform="matrix(1.1597,0,0,1,468.40,203.96)" font-size="13.56" font-weight="bold" fill="#000">810</text>
<text transform="matrix(1.1597,0,0,1,516.12,203.96)" font-size="13.56" font-weight="bold" fill="#000">900</text>
<text transform="matrix(1.1597,0,0,1,563.82,203.96)" font-size="13.56" font-weight="bold" fill="#000">990</text>
<text transform="matrix(1.2933,0,0,1,370.52,218.20)" font-size="12.37" font-weight="bold" fill="#000">Raman shift</text>
<text transform="matrix(1.0335,0,0,1,467.15,217.79)" font-size="15.65" font-weight="normal" fill="#000" stroke="#000" stroke-width="0.5" vector-effect="non-scaling-stroke" stroke-linejoin="round">(</text>
<text transform="matrix(1.1376,0,0,1,473.58,217.77)" font-size="13.69" font-weight="bold" fill="#000">cm</text>
<text transform="matrix(1.0887,0,0,1,498.32,210.30)" font-size="11.19" font-weight="bold" fill="#000">-1</text>
<text transform="matrix(0.8685,0,0,1,512.50,217.90)" font-size="15.11" font-weight="normal" fill="#000" stroke="#000" stroke-width="0.5" vector-effect="non-scaling-stroke" stroke-linejoin="round">)</text>
<text transform="matrix(0,-0.8993,1,0,314.66,147.15)" font-size="15.54" font-weight="bold" fill="#000">Intensity (a.u.)</text>
<text transform="matrix(0.8165,0,0,1,42.42,264.19)" font-size="23.58" font-weight="normal" fill="#000" stroke="#000" stroke-width="0.6" vector-effect="non-scaling-stroke" stroke-linejoin="round">(</text>
<text transform="matrix(0.8150,0,0,1,51.26,264.68)" font-size="22.82" font-weight="bold" fill="#000">c</text>
<text transform="matrix(0.6385,0,0,1,64.13,264.19)" font-size="23.58" font-weight="normal" fill="#000" stroke="#000" stroke-width="0.6" vector-effect="non-scaling-stroke" stroke-linejoin="round">)</text>
<text transform="matrix(1.1074,0,0,1,29.12,433.24)" font-size="14.23" font-weight="bold" fill="#000">350</text>
<text transform="matrix(1.1074,0,0,1,88.00,433.26)" font-size="14.27" font-weight="bold" fill="#000">700</text>
<text transform="matrix(1.1074,0,0,1,140.73,433.26)" font-size="14.26" font-weight="bold" fill="#000">1050</text>
<text transform="matrix(1.1074,0,0,1,199.98,433.26)" font-size="14.26" font-weight="bold" fill="#000">1400</text>
<text transform="matrix(1.1074,0,0,1,258.23,433.26)" font-size="14.26" font-weight="bold" fill="#000">1750</text>
<text transform="matrix(1.2162,0,0,1,82.74,446.50)" font-size="13.24" font-weight="bold" fill="#000">Wavelength</text>
<text transform="matrix(0.9880,0,0,1,178.77,446.67)" font-size="12.86" font-weight="normal" fill="#000" stroke="#000" stroke-width="0.5" vector-effect="non-scaling-stroke" stroke-linejoin="round">(</text>
<text transform="matrix(1.3124,0,0,1,183.90,446.40)" font-size="12.45" font-weight="bold" fill="#000">nm</text>
<text transform="matrix(0.9604,0,0,1,209.01,446.67)" font-size="12.86" font-weight="normal" fill="#000" stroke="#000" stroke-width="0.5" vector-effect="non-scaling-stroke" stroke-linejoin="round">)</text>
<text transform="matrix(0,-0.9059,1,0,13.14,389.29)" font-size="15.65" font-weight="bold" fill="#000">Absorbance (a.u)</text>
<text transform="matrix(1.2318,0,0,1,208.57,403.10)" font-size="9.75" font-weight="bold" fill="#000">ATO-0</text>
<text transform="matrix(0.7733,0,0,1,338.71,261.57)" font-size="23.90" font-weight="normal" fill="#000" stroke="#000" stroke-width="0.5" vector-effect="non-scaling-stroke" stroke-linejoin="round">(</text>
<text transform="matrix(0.9565,0,0,1,347.57,261.86)" font-size="23.68" font-weight="bold" fill="#000">d</text>
<text transform="matrix(0.6819,0,0,1,362.53,261.80)" font-size="22.08" font-weight="normal" fill="#000">)</text>
<text transform="matrix(1.0736,0,0,1,490.29,284.57)" font-size="10.52" font-weight="bold" fill="#000">ATO-0</text>
<text transform="matrix(1.0736,0,0,1,502.84,301.27)" font-size="10.52" font-weight="bold" fill="#000">ATO-2</text>
<text transform="matrix(1.0736,0,0,1,441.35,327.12)" font-size="10.52" font-weight="bold" fill="#000">ATO-4</text>
<text transform="matrix(1.0736,0,0,1,457.67,354.82)" font-size="10.52" font-weight="bold" fill="#000">ATO-6</text>
<text transform="matrix(1.1477,0,0,1,307.86,430.87)" font-size="13.28" font-weight="bold" fill="#000">620</text>
<text transform="matrix(1.1477,0,0,1,352.92,430.87)" font-size="13.28" font-weight="bold" fill="#000">625</text>
<text transform="matrix(1.1477,0,0,1,397.33,430.85)" font-size="13.25" font-weight="bold" fill="#000">630</text>
<text transform="matrix(1.1477,0,0,1,441.79,430.85)" font-size="13.25" font-weight="bold" fill="#000">635</text>
<text transform="matrix(1.1477,0,0,1,486.41,430.87)" font-size="13.28" font-weight="bold" fill="#000">640</text>
<text transform="matrix(1.1477,0,0,1,530.97,430.87)" font-size="13.28" font-weight="bold" fill="#000">645</text>
<text transform="matrix(1.1477,0,0,1,575.21,430.87)" font-size="13.28" font-weight="bold" fill="#000">650</text>
<text transform="matrix(1.3320,0,0,1,384.95,445.00)" font-size="11.65" font-weight="bold" fill="#000">Raman shift</text>
<text transform="matrix(0.9743,0,0,1,478.69,444.72)" font-size="12.65" font-weight="normal" fill="#000" stroke="#000" stroke-width="0.5" vector-effect="non-scaling-stroke" stroke-linejoin="round">(</text>
<text transform="matrix(1.3315,0,0,1,483.57,444.48)" font-size="11.87" font-weight="bold" fill="#000">cm</text>
<text transform="matrix(1.0356,0,0,1,506.89,441.00)" font-size="12.35" font-weight="bold" fill="#000">-1</text>
<text transform="matrix(1.0426,0,0,1,521.11,444.61)" font-size="12.22" font-weight="normal" fill="#000" stroke="#000" stroke-width="0.5" vector-effect="non-scaling-stroke" stroke-linejoin="round">)</text>
<text transform="matrix(0,-0.8786,1,0,315.91,375.71)" font-size="15.33" font-weight="bold" fill="#000">Intensity (a.u.)</text>
<text transform="translate(153.0,298.8) rotate(-40) scale(1.15,1)" font-size="10.4" font-weight="bold">ATO-6</text>
<text transform="translate(189.2,305.6) rotate(-36) scale(1.15,1)" font-size="10.4" font-weight="bold">ATO-2</text>
<text transform="translate(187.4,333.0) rotate(-39) scale(1.15,1)" font-size="10.4" font-weight="bold">ATO-4</text>
</g>
</svg>
</body></html>
